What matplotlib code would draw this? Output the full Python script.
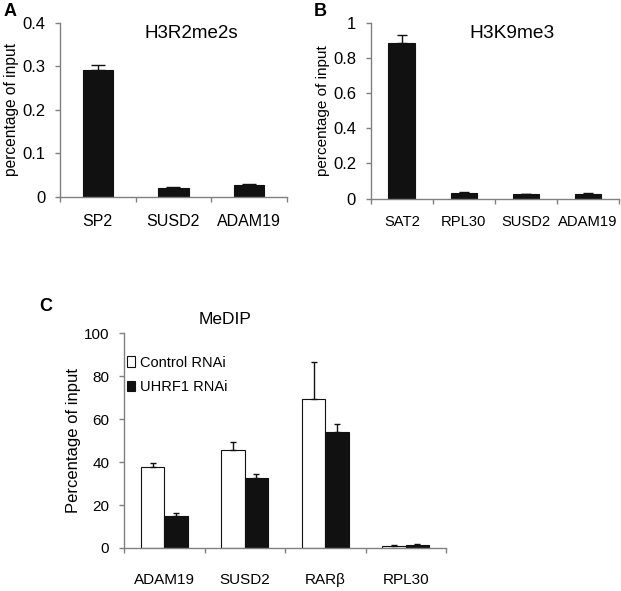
import numpy as np
import matplotlib
matplotlib.use('Agg')
import matplotlib.pyplot as plt

plt.rcParams['font.family'] = ['Liberation Sans', 'DejaVu Sans']

# panel A data
a_genes = ['SP2', 'SUSD2', 'ADAM19']
a_vals = [0.292, 0.020, 0.028]
a_err = [0.010, 0.004, 0.002]

# panel B data
b_genes = ['SAT2', 'RPL30', 'SUSD2', 'ADAM19']
b_vals = [0.885, 0.033, 0.025, 0.027]
b_err = [0.045, 0.005, 0.004, 0.007]

# panel C data
c_genes = ['ADAM19', 'SUSD2', 'RARβ', 'RPL30']
c_control = [37.9, 45.8, 69.3, 1.1]
c_control_err = [1.8, 3.4, 17.5, 0.3]
c_uhrf1 = [14.9, 32.6, 54.0, 1.4]
c_uhrf1_err = [1.4, 1.7, 3.8, 0.5]

SPINE = '#808080'
BAR = '#111111'


def style_axes(ax, n, ymax, yticks, yfmt, ylabel, lab_size, tick_size):
    for s in ['top', 'right']:
        ax.spines[s].set_visible(False)
    for s in ['left', 'bottom']:
        ax.spines[s].set_color(SPINE)
        ax.spines[s].set_linewidth(1.0)
    ax.set_xlim(0, n)
    ax.set_ylim(0, ymax)
    ax.set_yticks(yticks)
    ax.set_yticklabels([yfmt(t) for t in yticks], fontsize=tick_size)
    ax.set_xticks(np.arange(n + 1))
    ax.set_xticklabels([])
    ax.tick_params(axis='both', which='major', color=SPINE, direction='out', length=3.6, width=1)
    ax.tick_params(axis='y', which='major', pad=7)
    ax.set_ylabel(ylabel, fontsize=lab_size, labelpad=2)


fig = plt.figure(figsize=(6.21, 5.91), dpi=100)

# ---- A
axA = fig.add_axes([0.0966, 0.6667, 0.3654, 0.2949])
xa = np.arange(len(a_genes)) + 0.5
axA.bar(xa, a_vals, width=0.4, color=BAR, edgecolor=BAR, linewidth=0.8)
axA.errorbar(xa, a_vals, yerr=[np.zeros(len(a_err)), a_err], fmt='none',
             ecolor=BAR, elinewidth=1, capsize=5, capthick=1)
style_axes(axA, len(a_genes), 0.4, [0, 0.1, 0.2, 0.3, 0.4],
           lambda t: '0' if t == 0 else f'{t:g}', 'percentage of input', 11.2, 12)
axA.set_xticks(xa, minor=True)
axA.set_xticklabels(a_genes, minor=True, fontsize=11.5)
axA.tick_params(axis='x', which='minor', length=0, pad=12)
axA.text(0.577, 0.94, 'H3R2me2s', transform=axA.transAxes, ha='center', va='center', fontsize=13.5)
fig.text(0.005, 0.995, 'A', fontsize=13, fontweight='bold', va='top', ha='left')

# ---- B
axB = fig.add_axes([0.597, 0.6638, 0.400, 0.2978])
xb = np.arange(len(b_genes)) + 0.5
axB.bar(xb, b_vals, width=0.43, color=BAR, edgecolor=BAR, linewidth=0.8)
axB.errorbar(xb, b_vals, yerr=[np.zeros(len(b_err)), b_err], fmt='none',
             ecolor=BAR, elinewidth=1, capsize=3.5, capthick=1)
style_axes(axB, len(b_genes), 1.0, [0, 0.2, 0.4, 0.6, 0.8, 1.0],
           lambda t: f'{t:g}', 'percentage of input', 11, 12)
axB.set_xticks(xb, minor=True)
axB.set_xticklabels(b_genes, minor=True, fontsize=10.6)
axB.tick_params(axis='x', which='minor', length=0, pad=12)
axB.text(0.569, 0.936, 'H3K9me3', transform=axB.transAxes, ha='center', va='center', fontsize=13.8)
fig.text(0.505, 0.995, 'B', fontsize=13, fontweight='bold', va='top', ha='left')

# ---- C
axC = fig.add_axes([0.1997, 0.0728, 0.5185, 0.3632])
xc = np.arange(len(c_genes)) + 0.5
w = 0.29
axC.bar(xc - w / 2, c_control, width=w, color='white', edgecolor=BAR, linewidth=0.8,
        label='Control RNAi')
axC.bar(xc + w / 2, c_uhrf1, width=w, color=BAR, edgecolor=BAR, linewidth=0.8,
        label='UHRF1 RNAi')
axC.errorbar(xc - w / 2, c_control, yerr=[np.zeros(4), c_control_err], fmt='none',
             ecolor=BAR, elinewidth=1, capsize=2.5, capthick=1)
axC.errorbar(xc + w / 2, c_uhrf1, yerr=[np.zeros(4), c_uhrf1_err], fmt='none',
             ecolor=BAR, elinewidth=1, capsize=2.5, capthick=1)
style_axes(axC, len(c_genes), 100, [0, 20, 40, 60, 80, 100],
           lambda t: f'{t:g}', 'Percentage of input', 12, 11)
axC.set_xticks(xc, minor=True)
axC.set_xticklabels(c_genes, minor=True, fontsize=11)
axC.tick_params(axis='x', which='minor', length=0, pad=18)
axC.text(0.314, 1.065, 'MeDIP', transform=axC.transAxes, ha='center', va='center', fontsize=12.5)
axC.legend(loc='upper left', bbox_to_anchor=(0.0, 0.91), frameon=False,
           prop={'size': 10.5},
           handlelength=0.55, handleheight=0.7, handletextpad=0.35, labelspacing=0.75,
           borderaxespad=0.0, borderpad=0.2)
fig.text(0.064, 0.495, 'C', fontsize=13, fontweight='bold', va='top', ha='left')

fig.savefig('out.png', dpi=100)
